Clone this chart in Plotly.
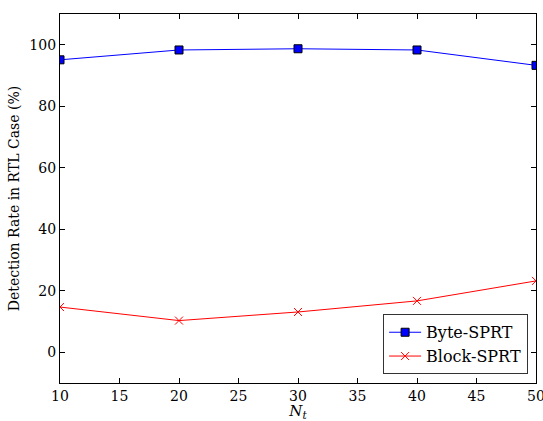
import plotly.graph_objects as go

n_t = [10, 20, 30, 40, 50]
byte_sprt = [95.1, 98.3, 98.7, 98.3, 93.3]
block_sprt = [14.7, 10.3, 13.1, 16.7, 23.2]

FONT = "DejaVu Serif"

fig = go.Figure()
fig.add_trace(go.Scatter(
    x=n_t, y=byte_sprt, name="Byte-SPRT", mode="lines+markers",
    line=dict(color="#0000ff", width=1),
    marker=dict(symbol="square", size=8, color="#0000ff",
                line=dict(color="black", width=1)),
))
fig.add_trace(go.Scatter(
    x=n_t, y=block_sprt, name="Block-SPRT", mode="lines+markers",
    line=dict(color="#ff0000", width=1),
    marker=dict(symbol="x-thin-open", size=8, color="#ff0000",
                line=dict(color="#ff0000", width=1)),
))

axis_common = dict(
    showgrid=False, zeroline=False, showline=True, mirror="allticks",
    linecolor="black", linewidth=1.2, ticks="inside", ticklen=5,
    tickcolor="black", automargin=False, ticklabeloverflow="allow",
    tickfont=dict(family=FONT, size=14, color="black"),
)

fig.update_layout(
    width=543, height=421,
    margin=dict(l=60, r=7, t=14, b=38),
    paper_bgcolor="white", plot_bgcolor="white",
    font=dict(family=FONT, size=14, color="black"),
    xaxis=dict(range=[10, 50], dtick=5, tick0=10,
               title=dict(text="<i>N</i><sub><i>t</i></sub>", standoff=4,
                          font=dict(family=FONT, size=15)),
               **axis_common),
    yaxis=dict(range=[-10, 110], dtick=20, tick0=0,
               title=dict(text="Detection Rate in RTL Case (%)", standoff=6,
                          font=dict(family=FONT, size=14)),
               **axis_common),
    legend=dict(x=0.983, y=0.024, xanchor="right", yanchor="bottom",
                bordercolor="#333333", borderwidth=1.2, bgcolor="white",
                itemwidth=32, tracegroupgap=2,
                font=dict(family=FONT, size=16)),
    showlegend=True,
)

fig.write_html("out.html")
